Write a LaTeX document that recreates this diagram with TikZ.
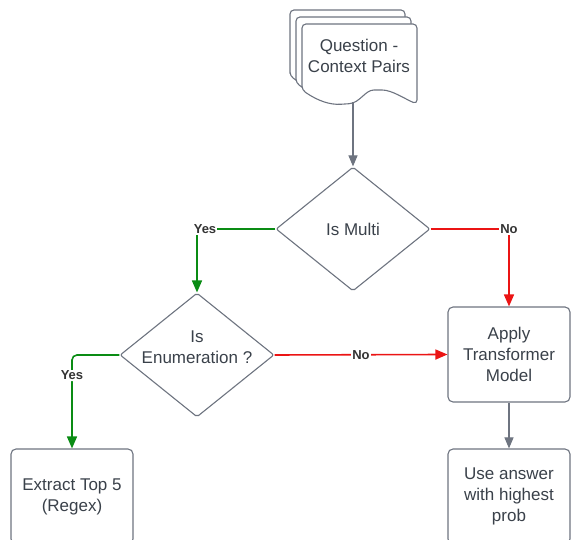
\documentclass[tikz,border=0pt]{standalone}
\usepackage{fontspec}
\setmainfont{Liberation Sans}
\usetikzlibrary{arrows.meta,positioning,calc,shapes.geometric}

\definecolor{lineGray}{RGB}{110,116,128}
\definecolor{textGray}{RGB}{58,65,74}
\definecolor{yesGreen}{RGB}{10,140,20}
\definecolor{noRed}{RGB}{235,20,20}

\tikzset{
    box/.style={draw=lineGray, line width=1.1pt, rounded corners=5pt, fill=white,
        text=textGray, minimum width=122pt, minimum height=95pt, align=center,
        font=\fontsize{17}{21}\selectfont},
    decision/.style={diamond, draw=lineGray, line width=1.1pt, rounded corners=2pt,
        fill=white, text=textGray, minimum width=154pt, minimum height=124pt,
        inner sep=0pt, align=center, font=\fontsize{17}{21}\selectfont},
    flowtext/.style={text=textGray, align=center, font=\fontsize{17}{21}\selectfont},
    flow/.style={draw=lineGray, line width=1.1pt, -{Triangle[length=11pt,width=9pt]}},
    yesflow/.style={draw=yesGreen, line width=1.6pt, -{Triangle[length=12pt,width=10pt]}},
    noflow/.style={draw=noRed, line width=1.6pt, -{Triangle[length=12pt,width=10pt]}},
    branch/.style={fill=white, text=black!80, inner sep=1pt,
        font=\bfseries\fontsize{13}{15}\selectfont},
}

\begin{document}
\begin{tikzpicture}[x=1pt,y=1pt]
    \clip (0,0) rectangle (571,540);

    % stack of documents
    \foreach \d in {12,6,0} {
        \draw[lineGray, line width=1.1pt, fill=white, rounded corners=4pt, shift={(-\d,7*\d/6)}]
            (302,450) -- (302,516) -- (417,516) -- (417,436)
            .. controls (405,441) and (392,450) .. (378,450)
            .. controls (365,450) and (360,437) .. (345,436)
            .. controls (330,435) and (318,439) .. (302,450) -- cycle;
    }
    \node[flowtext] (pairs) at (359,484) {Question -\\Context Pairs};
    \coordinate (pairs-foot) at (353,438);

    % decisions
    \node[decision] (multi) at (353,311) {Is Multi};
    \node[decision] (enum) at (197,185) {};
    \node[flowtext] (enum-text) at ($(enum)+(0,8)$) {Is\\Enumeration ?};

    % process boxes
    \node[box] (apply) at (509,185.5) {Apply\\Transformer\\Model};
    \node[box] (answer) at (509,43.5) {Use answer\\with highest\\prob};
    \node[box] (extract) at (72,43.5) {Extract Top 5\\(Regex)};

    % connectors
    \draw[flow] (pairs-foot) -- (multi.north);
    \draw[yesflow] (multi.west) -| node[branch, pos=0.5, xshift=8pt] (yes-multi) {Yes} (enum.north);
    \draw[noflow] (multi.east) -| node[branch, pos=0.5] (no-multi) {No} (apply.north);
    \draw[noflow] (enum.east) -- node[branch] (no-enum) {No} (apply.west);
    \draw[yesflow, rounded corners=5pt] (enum.west) -| node[branch, pos=0.61] (yes-enum) {Yes} (extract.north);
    \draw[flow] (apply.south) -- (answer.north);
\end{tikzpicture}
\end{document}
